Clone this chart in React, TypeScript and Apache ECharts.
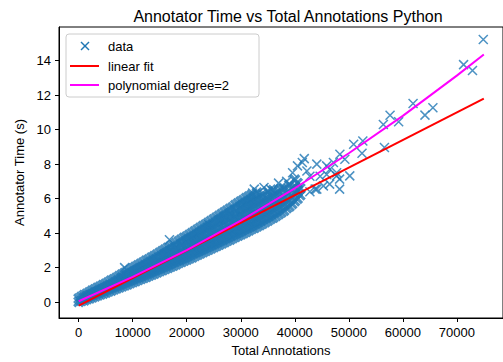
import React, { useEffect, useRef } from "react";
import * as echarts from "echarts";

// Dense band of observations: each row is [totalAnnotations, annotatorTime...]
const bandRows: number[][] = [
  [0, 0.02, 0.2],
  [500, 0.08, 0.3],
  [1000, 0.1, 0.25, 0.4],
  [1500, 0.17, 0.33, 0.48],
  [2000, 0.22, 0.4, 0.57],
  [2500, 0.28, 0.47, 0.66],
  [3000, 0.34, 0.55, 0.74],
  [3500, 0.39, 0.6, 0.83],
  [4000, 0.45, 0.66, 0.9],
  [4500, 0.5, 0.74, 0.98],
  [5000, 0.55, 0.8, 1.06],
  [5500, 0.62, 0.88, 1.15],
  [6000, 0.67, 0.95, 1.24],
  [6500, 0.74, 1.0, 1.32],
  [7000, 0.8, 1.08, 1.4],
  [7500, 0.85, 1.15, 1.5],
  [8000, 0.92, 1.2, 1.42, 1.6],
  [8500, 0.97, 1.3, 1.68],
  [9000, 1.03, 1.3, 1.55, 1.77],
  [9500, 1.1, 1.4, 1.86],
  [10000, 1.16, 1.42, 1.7, 1.95],
  [10500, 1.22, 1.5, 1.8, 2.05],
  [11000, 1.29, 1.58, 1.86, 2.13],
  [11500, 1.35, 1.64, 1.95, 2.22],
  [12000, 1.41, 1.7, 2.0, 2.3],
  [12500, 1.47, 1.77, 2.1, 2.4],
  [13000, 1.54, 1.83, 2.15, 2.48],
  [13500, 1.6, 1.92, 2.25, 2.58],
  [14000, 1.66, 1.98, 2.3, 2.66],
  [14500, 1.73, 2.05, 2.4, 2.76],
  [15000, 1.8, 2.1, 2.45, 2.85],
  [15500, 1.86, 2.2, 2.55, 2.95],
  [16000, 1.93, 2.25, 2.6, 2.78, 3.05],
  [16500, 1.99, 2.33, 2.7, 3.14],
  [17000, 2.06, 2.4, 2.75, 2.95, 3.22],
  [17500, 2.12, 2.48, 2.84, 3.32],
  [18000, 2.19, 2.52, 2.9, 3.15, 3.42],
  [18500, 2.27, 2.62, 3.0, 3.52],
  [19000, 2.34, 2.68, 3.05, 3.35, 3.62],
  [19500, 2.4, 2.76, 3.15, 3.72],
  [20000, 2.47, 2.82, 3.2, 3.5, 3.8],
  [20500, 2.54, 2.9, 3.28, 3.62, 3.9],
  [21000, 2.6, 2.95, 3.35, 3.7, 4.0],
  [21500, 2.68, 3.05, 3.42, 3.8, 4.1],
  [22000, 2.75, 3.1, 3.5, 3.88, 4.2],
  [22500, 2.82, 3.2, 3.6, 3.95, 4.3],
  [23000, 2.9, 3.25, 3.65, 4.05, 4.4],
  [23500, 2.97, 3.35, 3.75, 4.15, 4.5],
  [24000, 3.04, 3.4, 3.82, 4.25, 4.6],
  [24500, 3.12, 3.5, 3.9, 4.32, 4.7],
  [25000, 3.19, 3.55, 3.95, 4.4, 4.8],
  [25500, 3.26, 3.65, 4.05, 4.5, 4.9],
  [26000, 3.33, 3.7, 4.1, 4.55, 4.75, 5.0],
  [26500, 3.4, 3.8, 4.2, 4.65, 5.1],
  [27000, 3.48, 3.85, 4.25, 4.7, 4.95, 5.2],
  [27500, 3.56, 3.95, 4.35, 4.8, 5.3],
  [28000, 3.63, 4.0, 4.42, 4.85, 5.15, 5.4],
  [28500, 3.71, 4.1, 4.52, 4.95, 5.5],
  [29000, 3.79, 4.15, 4.6, 5.0, 5.35, 5.62],
  [29500, 3.86, 4.25, 4.68, 5.1, 5.72],
  [30000, 3.93, 4.3, 4.75, 5.15, 5.5, 5.82],
  [30500, 4.0, 4.4, 4.85, 5.25, 5.6, 5.92],
  [31000, 4.08, 4.45, 4.9, 5.35, 5.7, 6.03],
  [31500, 4.16, 4.55, 5.0, 5.45, 5.8, 6.12],
  [32000, 4.24, 4.62, 5.08, 5.5, 5.85, 6.2],
  [32500, 4.31, 4.7, 5.15, 5.6, 5.95],
  [33000, 4.39, 4.78, 5.25, 5.7, 6.05, 6.35],
  [33500, 4.46, 4.85, 5.32, 5.75, 6.15],
  [34000, 4.55, 4.95, 5.4, 5.85, 6.25],
  [34500, 4.64, 5.05, 5.5, 5.95],
  [35000, 4.73, 5.1, 5.55, 6.05, 6.4],
  [35500, 4.82, 5.2, 5.65, 6.1],
  [36000, 4.9, 5.3, 5.75, 6.2, 6.5],
  [36500, 5.0, 5.4, 5.85, 6.3],
  [37000, 5.1, 5.5, 5.95, 6.4],
  [37500, 5.2, 5.6, 6.05, 6.55],
  [38000, 5.3, 5.7, 6.15, 6.6],
  [38500, 5.45, 5.85, 6.3],
  [39000, 5.55, 5.95, 6.4, 6.8],
  [39500, 5.7, 6.1, 6.55],
  [40000, 5.85, 6.3, 6.7, 7.1],
  [40500, 6.0, 6.45, 6.9],
  [41000, 6.2, 6.6],
];

// Scattered observations outside the dense band
const outlierX: number[] = [
  8500, 16800, 24070, 32200, 32500, 34300, 35500, 37000, 38500, 39600, 40500,
  41760, 42250, 43770, 45900, 44080, 46500, 48350, 50180, 47750, 44080, 45300,
  46450, 48300, 47150, 49270, 47750, 45900, 44700, 42800, 42800, 48300, 41400,
  50900, 52600, 52450, 56600, 57640, 56400, 59230, 61900, 64100, 65570, 71250,
  72900, 74900,
];
const outlierY: number[] = [
  2.0, 3.62, 4.49, 6.32, 6.55, 6.65, 6.55, 6.9, 7.0, 7.5, 7.9,
  8.32, 7.6, 6.55, 7.9, 8.0, 7.7, 8.57, 7.32, 7.32, 6.55, 6.74,
  6.84, 7.13, 8.09, 8.28, 7.5, 7.4, 7.3, 7.3, 6.4, 6.55, 8.1,
  9.15, 9.34, 8.63, 8.96, 10.83, 10.3, 10.46, 11.52, 10.84, 11.27, 13.77,
  13.43, 15.22,
];

const linearX: number[] = [0, 75000];
const linearY: number[] = [-0.2, 11.8];

const polyX: number[] = [0, 10000, 20000, 30000, 40000, 50000, 60000, 70000, 75000];
const polyY: number[] = [0.05, 1.46, 3.02, 4.73, 6.6, 8.63, 10.8, 13.13, 14.36];

const xTicks: number[] = [0, 10000, 20000, 30000, 40000, 50000, 60000, 70000];
const yTicks: number[] = [0, 2, 4, 6, 8, 10, 12, 14];

const FONT = "'Liberation Sans', Arial, Helvetica, sans-serif";
const BLUE = "#1f77b4";
const XMARK = "path://M0,0L10,10M0,10L10,0";

export default function App() {
  const ref = useRef<HTMLDivElement>(null);

  useEffect(() => {
    if (!ref.current) return;
    const chart = echarts.init(ref.current, null, { renderer: "svg" });

    const scatterData: any[] = [];
    bandRows.forEach((row) => {
      for (let i = 1; i < row.length; i++) {
        scatterData.push({ value: [row[0], row[i]], itemStyle: { borderWidth: 3.2 } });
      }
    });
    outlierX.forEach((x, i) => scatterData.push({ value: [x, outlierY[i]] }));

    const option: any = {
      animation: false,
      backgroundColor: "#fff",
      textStyle: { fontFamily: FONT },
      title: {
        text: "Annotator Time vs Total Annotations Python",
        left: 283,
        textAlign: "center",
        top: 3,
        textStyle: { fontFamily: FONT, fontSize: 16, fontWeight: "normal", color: "#000" },
      },
      grid: {
        left: 59,
        top: 27,
        right: -5,
        bottom: 43,
        show: true,
        borderColor: "#000",
        borderWidth: 1,
        backgroundColor: "transparent",
      },
      xAxis: {
        type: "value",
        min: -3650,
        max: 78550,
        name: "Total Annotations",
        nameLocation: "middle",
        nameGap: 26,
        nameTextStyle: { fontFamily: FONT, fontSize: 13, color: "#000" },
        axisLine: { show: true, onZero: false, lineStyle: { color: "#000", width: 1 } },
        axisTick: {
          show: true,
          inside: false,
          length: 4,
          customValues: xTicks,
          lineStyle: { color: "#000", width: 1 },
        },
        axisLabel: {
          show: true,
          margin: 8,
          customValues: xTicks,
          formatter: (v: number) => String(v),
          fontFamily: FONT,
          fontSize: 13,
          color: "#000",
        },
        splitLine: { show: false },
      },
      yAxis: {
        type: "value",
        min: -0.92,
        max: 15.95,
        name: "Annotator Time (s)",
        nameLocation: "middle",
        nameGap: 31,
        nameTextStyle: { fontFamily: FONT, fontSize: 13, color: "#000" },
        axisLine: { show: true, onZero: false, lineStyle: { color: "#000", width: 1 } },
        axisTick: {
          show: true,
          inside: false,
          length: 4,
          customValues: yTicks,
          lineStyle: { color: "#000", width: 1 },
        },
        axisLabel: {
          show: true,
          margin: 8,
          customValues: yTicks,
          formatter: (v: number) => String(v),
          fontFamily: FONT,
          fontSize: 13,
          color: "#000",
        },
        splitLine: { show: false },
      },
      series: [
        {
          name: "data",
          type: "scatter",
          data: scatterData,
          symbol: XMARK,
          symbolSize: 9,
          itemStyle: { color: BLUE, borderColor: BLUE, borderWidth: 1.5 },
          z: 2,
        },
        {
          name: "linear fit",
          type: "line",
          data: linearX.map((x, i) => [x, linearY[i]]),
          showSymbol: false,
          lineStyle: { color: "#ff0000", width: 2 },
          z: 3,
        },
        {
          name: "polynomial degree=2",
          type: "line",
          data: polyX.map((x, i) => [x, polyY[i]]),
          showSymbol: false,
          lineStyle: { color: "#ff00ff", width: 2 },
          z: 4,
        },
      ],
      graphic: [
        {
          type: "rect",
          shape: { x: 66, y: 34, width: 193, height: 63, r: 3 },
          style: { fill: "rgba(255,255,255,0.8)", stroke: "#cccccc", lineWidth: 1 },
          z: 100,
        },
        {
          type: "line",
          shape: { x1: 81, y1: 42, x2: 89, y2: 50 },
          style: { stroke: BLUE, lineWidth: 1.5 },
          z: 101,
        },
        {
          type: "line",
          shape: { x1: 81, y1: 50, x2: 89, y2: 42 },
          style: { stroke: BLUE, lineWidth: 1.5 },
          z: 101,
        },
        {
          type: "line",
          shape: { x1: 70, y1: 66, x2: 99, y2: 66 },
          style: { stroke: "#ff0000", lineWidth: 2 },
          z: 101,
        },
        {
          type: "line",
          shape: { x1: 70, y1: 85, x2: 99, y2: 85 },
          style: { stroke: "#ff00ff", lineWidth: 2 },
          z: 101,
        },
        {
          type: "text",
          x: 108,
          y: 46,
          style: { text: "data", font: `13px ${FONT}`, fill: "#000", textVerticalAlign: "middle" },
          z: 101,
        },
        {
          type: "text",
          x: 108,
          y: 66,
          style: { text: "linear fit", font: `13px ${FONT}`, fill: "#000", textVerticalAlign: "middle" },
          z: 101,
        },
        {
          type: "text",
          x: 108,
          y: 85,
          style: {
            text: "polynomial degree=2",
            font: `13px ${FONT}`,
            fill: "#000",
            textVerticalAlign: "middle",
          },
          z: 101,
        },
      ],
    };

    chart.setOption(option);
    return () => chart.dispose();
  }, []);

  return (
    <div
      ref={ref}
      style={{ position: "absolute", left: 0, top: 0, width: 503, height: 362 }}
    />
  );
}
